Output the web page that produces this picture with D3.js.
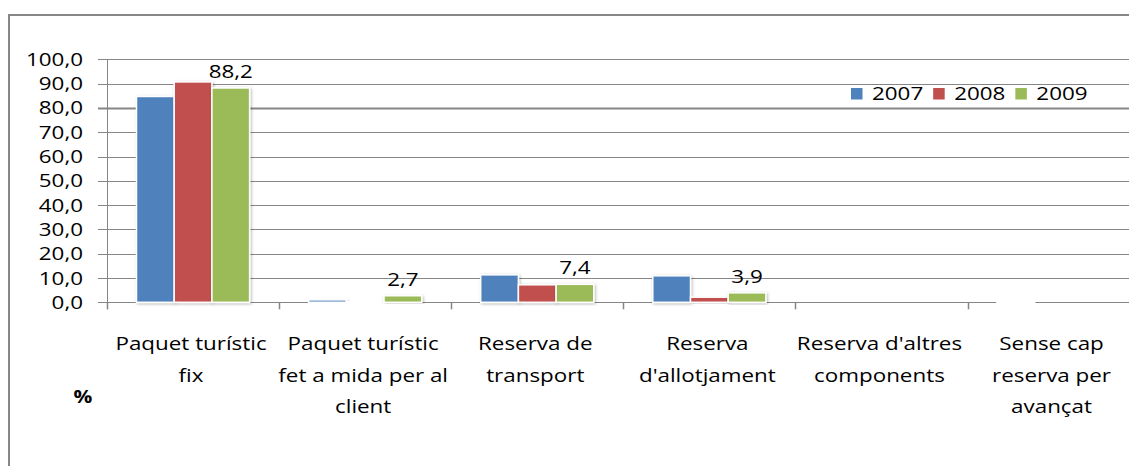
<!DOCTYPE html>
<html>
<head>
<meta charset="utf-8">
<script src="https://cdn.jsdelivr.net/npm/d3@7"></script>
<style>
  html, body { margin: 0; padding: 0; background: #fff; }
  svg text { font-family: "Open Sans", sans-serif; fill: #000; }
</style>
</head>
<body>
<svg id="chart" width="1129" height="466"></svg>
<script>
// ---- data ----
const categories = [
  ["Paquet turístic", "fix"],
  ["Paquet turístic", "fet a mida per al", "client"],
  ["Reserva de", "transport"],
  ["Reserva", "d'allotjament"],
  ["Reserva d'altres", "components"],
  ["Sense cap", "reserva per", "avançat"]
];
const seriesNames = ["2007", "2008", "2009"];
const values2007 = [84.7, 1.0, 11.3, 10.9, 0, 0.1];
const values2008 = [90.7, 0.3, 7.2, 2.1, 0, 0];
const values2009 = [88.2, 2.7, 7.4, 3.9, 0, 0];
const yTicks = [0, 10, 20, 30, 40, 50, 60, 70, 80, 90, 100];
const colors = ["#4F81BD", "#C0504D", "#9BBB59"];

const seriesValues = [values2007, values2008, values2009];
const labelledSeries = 2;

// ---- layout ----
const SX = 1.23;       // horizontal stretch of text (as in the picture)
const FS = 18.2;       // font size
const plotL = 107, plotR = 1139.6, plotT = 59.3, plotB = 302.3;

const svg = d3.select("#chart");
const defs = svg.append("defs");
const f = defs.append("filter").attr("id", "shadow")
  .attr("x", "-20%").attr("y", "-20%").attr("width", "140%").attr("height", "140%");
f.append("feDropShadow").attr("dx", 1).attr("dy", 1).attr("stdDeviation", 1.6)
  .attr("flood-color", "#000").attr("flood-opacity", 0.3);

// outer border
svg.append("rect").attr("x", 9).attr("y", 15).attr("width", 1300).attr("height", 600)
  .attr("fill", "none").attr("stroke", "#878787").attr("stroke-width", 2);

const x0 = d3.scaleBand().domain(d3.range(categories.length)).range([plotL, plotR])
  .paddingInner(0).paddingOuter(0);
const groupW = 113.1;
const x1 = d3.scaleBand().domain(d3.range(seriesNames.length))
  .range([(x0.bandwidth() - groupW) / 2, (x0.bandwidth() + groupW) / 2]);
const y = d3.scaleLinear().domain([0, 100]).range([plotB, plotT]);
const fmt = v => d3.format(".1f")(v).replace(".", ",");

function stretched(sel, x, yy) {
  return sel.attr("transform", `translate(${x},${yy}) scale(${SX},1)`);
}

// gridlines + y ticks
const grid = svg.append("g");
yTicks.forEach(t => {
  grid.append("line").attr("x1", 98).attr("x2", 1160)
    .attr("y1", Math.round(y(t)) + 0.5).attr("y2", Math.round(y(t)) + 0.5)
    .attr("stroke", "#868686").attr("stroke-width", t === 80 ? 2 : 1);
  stretched(grid.append("text"), 83, y(t))
    .attr("text-anchor", "end").attr("dy", "0.36em")
    .style("font-size", FS + "px").text(fmt(t));
});
// y axis line
svg.append("line").attr("x1", plotL + 0.5).attr("x2", plotL + 0.5)
  .attr("y1", y(100)).attr("y2", plotB + 7).attr("stroke", "#868686");
// category ticks
d3.range(categories.length + 1).forEach(i => {
  const xx = Math.round(plotL + i * x0.bandwidth()) + 0.5;
  svg.append("line").attr("x1", xx).attr("x2", xx).attr("y1", plotB).attr("y2", plotB + 7)
    .attr("stroke", "#868686").attr("stroke-width", 1.5);
});

// bars
const bars = svg.append("g");
seriesValues.forEach((vals, s) => {
  vals.forEach((v, c) => {
    const bx = x0(c) + x1(s);
    bars.append("rect")
      .attr("x", bx).attr("width", x1.bandwidth())
      .attr("y", y(v)).attr("height", Math.max(0, y(0) - y(v)))
      .attr("fill", colors[s]).attr("stroke", "#fff").attr("stroke-width", 1.5)
      .attr("filter", "url(#shadow)");
  });
});

// data labels (2009)
seriesValues[labelledSeries].forEach((v, c) => {
  if (!(v > 0)) return;
  const cx = x0(c) + x1(labelledSeries) + x1.bandwidth() / 2;
  stretched(svg.append("text"), cx, y(v) - 10)
    .attr("text-anchor", "middle").style("font-size", FS + "px").text(fmt(v));
});

// category labels
categories.forEach((lines, c) => {
  const cx = x0(c) + x0.bandwidth() / 2;
  lines.forEach((ln, i) => {
    stretched(svg.append("text"), cx - 2, 350 + i * 31.5)
      .attr("text-anchor", "middle").style("font-size", FS + "px").text(ln);
  });
});

// % label
stretched(svg.append("text"), 83, 403)
  .attr("text-anchor", "middle").style("font-size", "17px").style("font-weight", "bold").text("%");

// legend
let lx = 851;
seriesNames.forEach((name, s) => {
  svg.append("rect").attr("x", lx).attr("y", 88).attr("width", 11.5).attr("height", 11.5)
    .attr("fill", colors[s]);
  const t = stretched(svg.append("text"), lx + 21, 100)
    .style("font-size", FS + "px").text(name);
  const w = t.node().getComputedTextLength() * SX;
  lx += 21 + w + 10;
});
</script>
</body>
</html>
